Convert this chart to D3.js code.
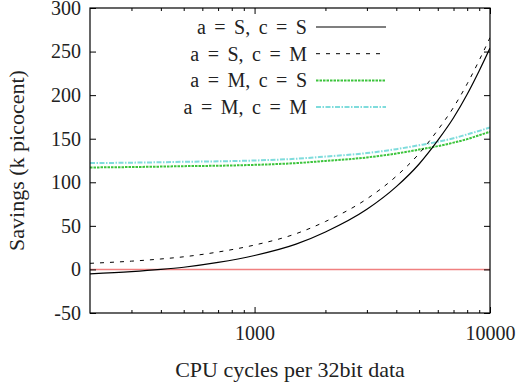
<!DOCTYPE html>
<html>
<head>
<meta charset="utf-8">
<script src="https://cdn.jsdelivr.net/npm/d3@7"></script>
<style>
  body { margin: 0; background: #fff; }
  text { font-family: "Liberation Serif", "Times New Roman", serif; fill: #222; }
</style>
</head>
<body>
<script>
// values
var cycles = [200, 300, 400, 500, 700, 1000, 1500, 2000, 3000, 4000, 5000, 6000, 7000, 8000, 9000, 10000];
var aScS = [-5, -2.5, 0, 2.5, 8, 16, 29, 43, 69, 95, 121, 148, 174, 201, 228, 254];
var aScM = [7, 9.5, 12, 14.5, 20, 28, 41, 55, 81, 107, 133, 160, 186, 213, 240, 266];
var aMcS = [117, 117.5, 118, 118.5, 119, 120, 122, 124.5, 128.5, 133, 137.5, 141.5, 145.5, 149.5, 154, 158];
var aMcM = [122, 122.5, 123, 123.5, 124, 125, 127, 129.5, 133.5, 138, 142.5, 146.5, 150.5, 155, 159, 163];
var zeroLine = [0, 0];
var zeroX = [200, 10000];
var seriesNames = ["a = S, c = S", "a = S, c = M", "a = M, c = S", "a = M, c = M"];
var yTicks = [-50, 0, 50, 100, 150, 200, 250, 300];
var xTicks = [1000, 10000];
var xMinor = [300, 400, 500, 600, 700, 800, 900, 2000, 3000, 4000, 5000, 6000, 7000, 8000, 9000];

function drawChart() {
    var W = 522, H = 382;
    var padL = 90, padR = 490, padT = 8, padB = 313;

    var svg = d3.select("body").append("svg")
        .attr("width", W)
        .attr("height", H);

    var x = d3.scaleLog().domain([200, 10000]).range([padL, padR]);
    var y = d3.scaleLinear().domain([-50, 300]).range([padB, padT]);

    // styles for each series
    var styles = [
        {color: "#000", dash: null, width: 1.2},
        {color: "#000", dash: "4,6", width: 1},
        {color: "#3cc43c", dash: "2.5,1", width: 2},
        {color: "#7fdcdc", dash: "5,1.5,1.5,1.5", width: 2}
    ];
    var allSeries = [aScS, aScM, aMcS, aMcM];

    var line = d3.line()
        .x(function (d) { return x(d[0]); })
        .y(function (d) { return y(d[1]); })
        .curve(d3.curveMonotoneX);

    svg.append("defs").append("clipPath").attr("id", "plotclip")
        .append("rect")
        .attr("x", padL).attr("y", padT)
        .attr("width", padR - padL).attr("height", padB - padT);

    var plot = svg.append("g").attr("clip-path", "url(#plotclip)");

    // zero reference line
    plot.append("path")
        .datum(d3.zip(zeroX, zeroLine))
        .attr("d", line)
        .attr("fill", "none")
        .attr("stroke", "#f08080")
        .attr("stroke-width", 1.5);

    // draw in reverse so black lines end up on top
    [3, 2, 1, 0].forEach(function (i) {
        var s = styles[i];
        plot.append("path")
            .datum(d3.zip(cycles, allSeries[i]))
            .attr("d", line)
            .attr("fill", "none")
            .attr("stroke", s.color)
            .attr("stroke-width", s.width)
            .attr("stroke-dasharray", s.dash);
    });

    // axes, ticks inward on all four sides
    function tickStyle(g) {
        g.select(".domain").remove();
        g.selectAll(".tick line").attr("stroke", "#000");
        g.selectAll(".tick text").style("font-size", "20px").attr("fill", "#222");
    }
    // plain hyphen for negatives, like the original
    var plain = function (d) { return String(d); };

    svg.append("g")
        .attr("transform", "translate(0," + padB + ")")
        .call(d3.axisBottom(x).tickValues(xTicks).tickFormat(plain).tickSizeInner(-6).tickPadding(13))
        .call(tickStyle);
    svg.append("g")
        .attr("transform", "translate(0," + padB + ")")
        .call(d3.axisBottom(x).tickValues(xMinor).tickFormat("").tickSizeInner(-3))
        .call(tickStyle);
    svg.append("g")
        .attr("transform", "translate(0," + padT + ")")
        .call(d3.axisTop(x).tickValues(xTicks).tickFormat("").tickSizeInner(-6))
        .call(tickStyle);
    svg.append("g")
        .attr("transform", "translate(0," + padT + ")")
        .call(d3.axisTop(x).tickValues(xMinor).tickFormat("").tickSizeInner(-3))
        .call(tickStyle);

    svg.append("g")
        .attr("transform", "translate(" + padL + ",0)")
        .call(d3.axisLeft(y).tickValues(yTicks).tickFormat(plain).tickSizeInner(-6).tickPadding(9))
        .call(tickStyle);
    svg.append("g")
        .attr("transform", "translate(" + padR + ",0)")
        .call(d3.axisRight(y).tickValues(yTicks).tickFormat("").tickSizeInner(-6))
        .call(tickStyle);

    // frame
    svg.append("rect")
        .attr("x", padL).attr("y", padT)
        .attr("width", padR - padL).attr("height", padB - padT)
        .attr("fill", "none")
        .attr("stroke", "#000")
        .attr("stroke-width", 1.2);

    // legend
    var legend = svg.append("g");
    seriesNames.forEach(function (name, i) {
        var ly = 27 + i * 26.7;
        legend.append("text")
            .attr("x", 307)
            .attr("y", ly + 7)
            .attr("text-anchor", "end")
            .style("font-size", "20px")
            .style("word-spacing", "3.5px")
            .text(name);
        legend.append("line")
            .attr("x1", 316).attr("x2", 386)
            .attr("y1", ly).attr("y2", ly)
            .attr("stroke", styles[i].color)
            .attr("stroke-width", styles[i].width)
            .attr("stroke-dasharray", styles[i].dash);
    });

    // axis titles
    svg.append("text")
        .attr("x", (padL + padR) / 2)
        .attr("y", 377)
        .attr("text-anchor", "middle")
        .style("font-size", "22px")
        .text("CPU cycles per 32bit data");

    svg.append("text")
        .attr("transform", "translate(24," + ((padT + padB) / 2) + ") rotate(-90)")
        .attr("text-anchor", "middle")
        .style("font-size", "22px")
        .text("Savings (k picocent)");
}

drawChart();
</script>
</body>
</html>
